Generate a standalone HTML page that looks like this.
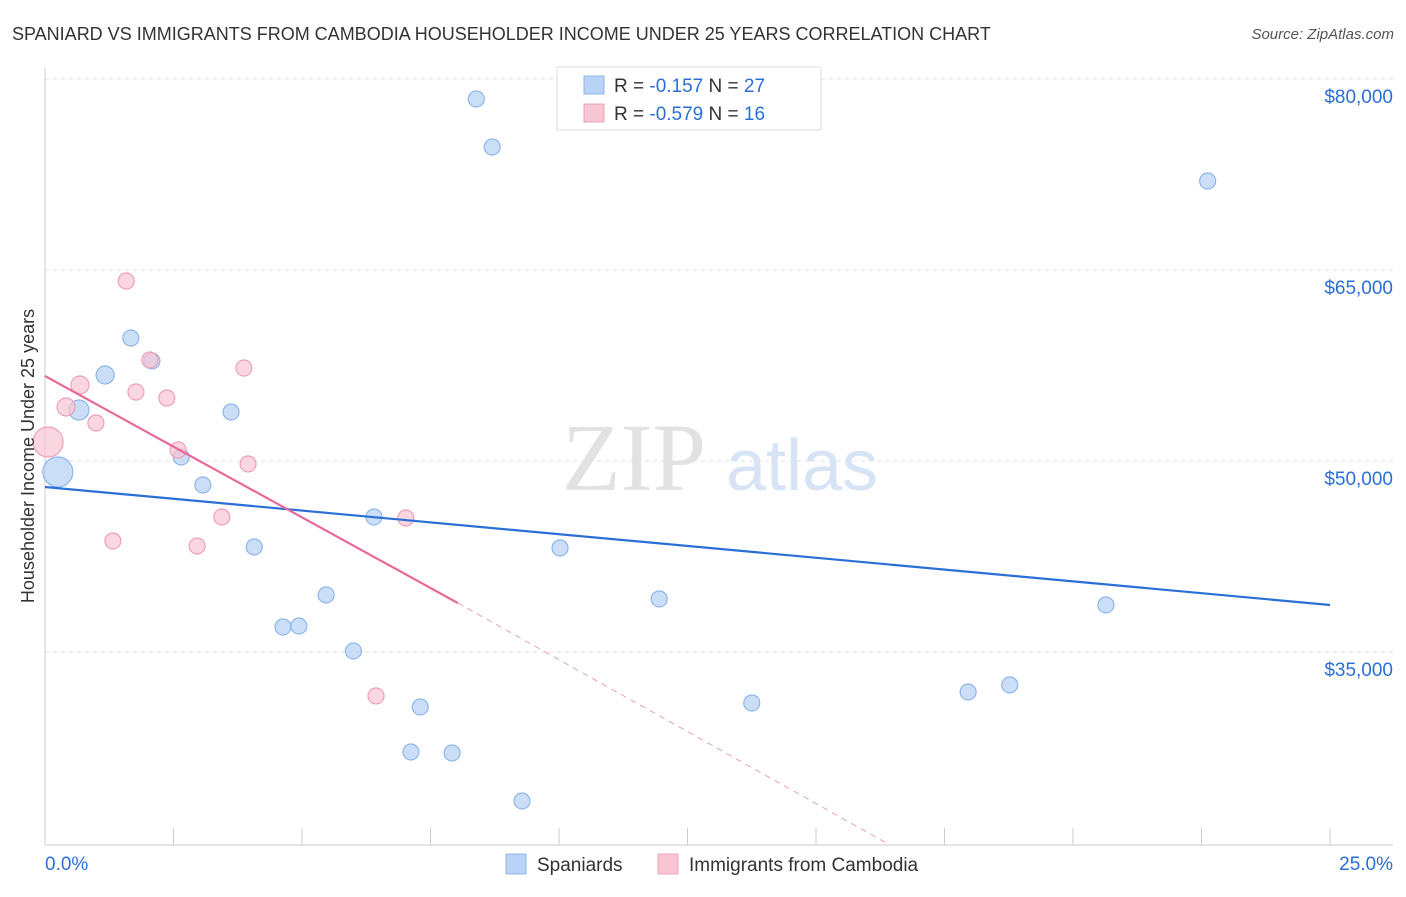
<!DOCTYPE html>
<html><head><meta charset="utf-8"><style>
body{margin:0;background:#fff;font-family:"Liberation Sans",sans-serif;}
svg text{font-family:"Liberation Sans",sans-serif;}
</style></head><body>
<svg width="1406" height="892" viewBox="0 0 1406 892">
<text x="12" y="40" font-size="18" fill="#333">SPANIARD VS IMMIGRANTS FROM CAMBODIA HOUSEHOLDER INCOME UNDER 25 YEARS CORRELATION CHART</text>
<text x="1394" y="39" font-size="15" fill="#555" text-anchor="end" font-style="italic">Source: ZipAtlas.com</text>
<g>
<text x="634" y="490" font-size="96" fill="#e2e2e2" text-anchor="middle" font-family="Liberation Serif" style="font-family:'Liberation Serif',serif">ZIP</text>
<text x="802" y="490" font-size="72" fill="#d7e4f5" text-anchor="middle">atlas</text>
</g>
<g id="grid"></g>
<g id="axes"></g>
<g id="marks"></g>
<text transform="translate(34,456) rotate(-90)" font-size="18" fill="#333" text-anchor="middle">Householder Income Under 25 years</text>
<g>
<rect x="557" y="67" width="264" height="63" fill="#fff" stroke="#ddd"/>
<rect x="584" y="76" width="20" height="18" fill="#b8d3f5" stroke="#8fb6e8"/>
<text x="614" y="92" font-size="19" fill="#333">R = <tspan fill="#2a6fd6"> -0.157</tspan>   N = <tspan fill="#2a6fd6">27</tspan></text>
<rect x="584" y="104" width="20" height="18" fill="#f8c5d4" stroke="#eda0b8"/>
<text x="614" y="120" font-size="19" fill="#333">R = <tspan fill="#2a6fd6">-0.579</tspan>   N = <tspan fill="#2a6fd6"> 16</tspan></text>
</g>
<g>
<rect x="506" y="854" width="20" height="20" fill="#b8d3f5" stroke="#8fb6e8"/>
<text x="537" y="871" font-size="19" fill="#333">Spaniards</text>
<rect x="658" y="854" width="20" height="20" fill="#f8c5d4" stroke="#eda0b8"/>
<text x="689" y="871" font-size="19" fill="#333">Immigrants from Cambodia</text>
</g>
</svg>
<script>
const yTicks=[80000,65000,50000,35000];
const yTickLabels=["$80,000","$65,000","$50,000","$35,000"];
const xTickLabels=["0.0%","25.0%"];
const blueX=[0.25,0.66,1.17,1.67,2.08,2.65,3.07,3.62,4.07,4.63,4.94,5.47,6.00,6.40,7.12,7.30,7.92,8.39,8.70,9.28,10.02,11.95,13.75,17.96,18.77,20.64,22.62];
const blueY=[49138,54007,56755,59661,57855,50316,48117,53850,43248,36966,37044,39479,35081,45604,27149,30683,27070,78429,74660,23301,43170,39164,30997,31861,32411,38693,71990];
const blueR=[15,10,9,8,8,8,8,8,8,8,8,8,8,8,8,8,8,8,8,8,8,8,8,8,8,8,8];
const pinkX=[0.06,0.41,0.68,0.99,1.32,1.58,1.77,2.04,2.37,2.59,2.96,3.44,3.87,3.95,6.44,7.02];
const pinkY=[51494,54242,55970,52986,43719,64137,55420,57933,54949,50865,43327,45604,57305,49766,31547,45525];
const pinkR=[15,9,9,8,8,8,8,8,8,8,8,8,8,8,8,8];
const blueTrend=[[0,47960],[25,38693]];
const pinkTrend=[[0,56677],[8.03,38850]];
const pinkTrendDash=[[8.03,38850],[16.44,19846]];
const NS="http://www.w3.org/2000/svg";
const xs=v=>45+v/25*1285;
const ys=v=>79+(80000-v)/15000*191;
function mk(t,a,p){const e=document.createElementNS(NS,t);for(const k in a)e.setAttribute(k,a[k]);p.appendChild(e);return e;}
const grid=document.getElementById('grid'),axes=document.getElementById('axes'),marks=document.getElementById('marks');
yTicks.forEach((v,i)=>{
 const l=mk('line',{x1:45,x2:1393,y1:ys(v),y2:ys(v),stroke:'#e0e0e0','stroke-dasharray':'4,4'},grid);
 
 
 const t=mk('text',{x:1393,y:ys(v)+24,'font-size':19,fill:'#2a6fd6','text-anchor':'end'},axes);
 t.textContent=yTickLabels[i];
 
 
});
mk('line',{x1:45,x2:45,y1:68,y2:845,stroke:'#ccc'},axes);
mk('line',{x1:45,x2:1393,y1:845,y2:845,stroke:'#ccc'},axes);
for(let i=0;i<=10;i++){const x=xs(i*2.5);const tk=mk('line',{x1:x,x2:x,y1:828,y2:845,stroke:'#ccc'},axes);
 
 }
[[0,'start',45],[1,'end',1393]].forEach(([i,a,x])=>{const t=mk('text',{x:x,y:870,'font-size':19,fill:'#2a6fd6','text-anchor':a},axes);t.textContent=xTickLabels[i];
 
 });
function line(seg,col,dash,name){const l=mk('line',{x1:xs(seg[0][0]),y1:ys(seg[0][1]),x2:xs(seg[1][0]),y2:ys(seg[1][1]),stroke:col,'stroke-width':dash?1:2.2},marks);if(dash)l.setAttribute('stroke-dasharray','6,5');
 
 }
blueX.forEach((x,i)=>{const c=mk('circle',{cx:xs(x),cy:ys(blueY[i]),r:blueR[i],fill:'#b8d3f5','fill-opacity':0.75,stroke:'#8fb6e8','stroke-width':1.2},marks);
 
 });
pinkX.forEach((x,i)=>{const c=mk('circle',{cx:xs(x),cy:ys(pinkY[i]),r:pinkR[i],fill:'#f8c5d4','fill-opacity':0.7,stroke:'#eda0b8','stroke-width':1.2},marks);
 
 });
line(blueTrend,'#2a6fd6',false,'spaniards-trendline');
line(pinkTrend,'#e8689a',false,'cambodia-trendline');
line(pinkTrendDash,'#e8a0b8',true,'cambodia-trendline-extension');
</script>
</body></html>
